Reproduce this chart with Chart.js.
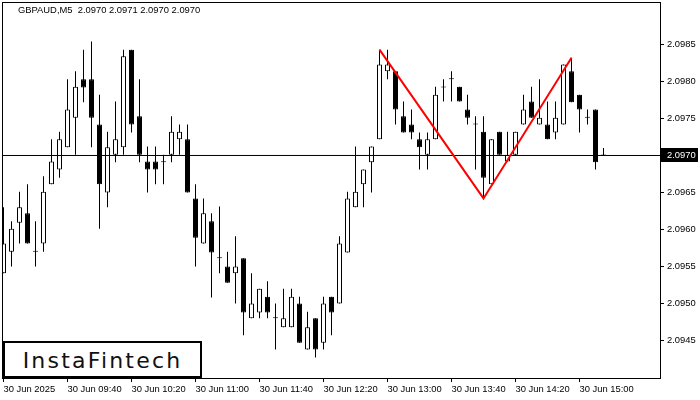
<!DOCTYPE html>
<html>
<head>
<meta charset="utf-8">
<script src="https://cdn.jsdelivr.net/npm/chart.js@4/dist/chart.umd.min.js"></script>
<style>
html,body{margin:0;padding:0;background:#fff;}
#wrap{position:relative;width:700px;height:400px;overflow:hidden;}
#title{position:absolute;left:18px;top:4px;font:9.4px "Liberation Sans",Arial,sans-serif;color:#000;white-space:pre;}
#logo{position:absolute;left:3px;top:341px;width:199px;height:37px;box-sizing:border-box;border:2px solid #000;background:#fff;
  font:500 22px "DejaVu Sans",sans-serif;color:#111;display:flex;align-items:center;justify-content:center;padding-top:1px;letter-spacing:2.2px;}
</style>
</head>
<body>
<div id="wrap">
<canvas id="c" width="700" height="400"></canvas>
<div id="title"></div>
<div id="logo">InstaFintech</div>
</div>
<script>
const symbol = 'GBPAUD,M5';
const opens = [2.09541,2.09570,2.09609,2.09622,2.09570,2.09581,2.09661,2.09681,2.09711,2.09751,
2.09803,2.09803,2.09742,2.09650,2.09701,2.09711,2.09843,2.09753,2.09692,2.09692,
2.09691,2.09701,2.09722,2.09722,2.09642,2.09581,2.09611,2.09561,2.09550,2.09541,
2.09561,2.09480,2.09488,2.09509,2.09480,2.09468,2.09468,2.09500,2.09438,2.09480,
2.09447,2.09509,2.09500,2.09569,2.09630,2.09661,2.09691,2.09722,2.09814,2.09814,
2.09753,2.09742,2.09722,2.09701,2.09722,2.09792,2.09803,2.09793,2.09762,2.09742,
2.09732,2.09661,2.09732,2.09692,2.09701,2.09742,2.09773,2.09742,2.09742,2.09731,
2.09742,2.09814,2.09782,2.09751,2.09762,2.09700];
const highs = [2.09630,2.09611,2.09651,2.09661,2.09611,2.09672,2.09722,2.09732,2.09803,2.09814,
2.09843,2.09854,2.09782,2.09732,2.09773,2.09843,2.09843,2.09803,2.09712,2.09712,
2.09701,2.09753,2.09742,2.09742,2.09661,2.09642,2.09622,2.09631,2.09570,2.09591,
2.09561,2.09541,2.09520,2.09530,2.09500,2.09520,2.09520,2.09509,2.09489,2.09480,
2.09509,2.09509,2.09591,2.09651,2.09712,2.09681,2.09712,2.09843,2.09843,2.09814,
2.09773,2.09762,2.09731,2.09731,2.09793,2.09803,2.09814,2.09793,2.09782,2.09753,
2.09753,2.09722,2.09732,2.09732,2.09732,2.09782,2.09793,2.09803,2.09773,2.09773,
2.09823,2.09832,2.09782,2.09762,2.09762,2.09710];
const lows = [2.09541,2.09550,2.09581,2.09581,2.09550,2.09570,2.09661,2.09670,2.09711,2.09701,
2.09772,2.09711,2.09601,2.09630,2.09691,2.09701,2.09731,2.09691,2.09650,2.09661,
2.09661,2.09691,2.09701,2.09650,2.09550,2.09581,2.09508,2.09541,2.09528,2.09500,
2.09457,2.09480,2.09480,2.09480,2.09438,2.09468,2.09468,2.09447,2.09438,2.09427,
2.09438,2.09457,2.09500,2.09569,2.09630,2.09630,2.09650,2.09722,2.09803,2.09742,
2.09731,2.09722,2.09681,2.09681,2.09722,2.09773,2.09773,2.09773,2.09742,2.09681,
2.09642,2.09661,2.09701,2.09692,2.09701,2.09742,2.09751,2.09742,2.09722,2.09722,
2.09742,2.09772,2.09731,2.09742,2.09681,2.09700];
const closes = [2.09581,2.09601,2.09630,2.09581,2.09570,2.09651,2.09692,2.09722,2.09762,2.09793,
2.09792,2.09751,2.09661,2.09711,2.09722,2.09834,2.09742,2.09701,2.09681,2.09681,
2.09691,2.09732,2.09732,2.09650,2.09589,2.09622,2.09569,2.09561,2.09528,2.09550,
2.09488,2.09500,2.09520,2.09488,2.09480,2.09480,2.09509,2.09447,2.09468,2.09438,
2.09500,2.09488,2.09581,2.09642,2.09651,2.09681,2.09712,2.09823,2.09823,2.09762,
2.09731,2.09731,2.09711,2.09722,2.09782,2.09792,2.09803,2.09773,2.09751,2.09742,
2.09670,2.09722,2.09701,2.09701,2.09732,2.09762,2.09751,2.09751,2.09722,2.09751,
2.09823,2.09772,2.09762,2.09751,2.09691,2.09700];
const currentPrice = 2.0970;
const yTickValues = [2.0945,2.0950,2.0955,2.0960,2.0965,2.0970,2.0975,2.0980,2.0985];
const xTickIndex = [0,8,16,24,32,40,48,56,64,72];
const xTickLabels = ['30 Jun 2025','30 Jun 09:40','30 Jun 10:20','30 Jun 11:00','30 Jun 11:40','30 Jun 12:20','30 Jun 13:00','30 Jun 13:40','30 Jun 14:20','30 Jun 15:00'];
const patternIndex = [47,60,71];
const patternPrice = [2.09843,2.09642,2.09832];

const last = opens.length - 1;
document.getElementById('title').textContent =
  symbol + '  ' + [opens[last], highs[last], lows[last], closes[last]].map(v => v.toFixed(4)).join(' ');

const FONT = '"Liberation Sans", Arial, sans-serif';
const idx = opens.map((_, i) => i);
const wickData = idx.map(i => ({x: i, y: [lows[i], highs[i]]}));
const bodyData = idx.map(i => ({x: i, y: [opens[i], closes[i]]}));
const bodyColors = idx.map(i => closes[i] < opens[i] ? '#000' : '#fff');

const xMin = -0.1875, xMax = 82.0625;
const yMin = 2.0939932, yMax = 2.0990608;

const framePlugin = {
  id: 'frame',
  afterDraw(chart) {
    const {ctx, chartArea: a, scales: {y}} = chart;
    ctx.save();
    ctx.strokeStyle = '#000';
    ctx.lineWidth = 1;
    ctx.strokeRect(a.left + 0.5, a.top - 0.5, a.right - a.left, a.bottom - a.top + 1);
    const py = Math.round(y.getPixelForValue(currentPrice));
    ctx.fillStyle = '#000';
    ctx.fillRect(a.right + 1, py - 7, 37, 14);
    ctx.fillStyle = '#fff';
    ctx.font = '9.4px ' + FONT;
    ctx.textBaseline = 'middle';
    ctx.textAlign = 'left';
    ctx.fillText(currentPrice.toFixed(4), a.right + 7, py + 0.5);
    ctx.restore();
  }
};

const noPad = s => { s.paddingTop = 0; s.paddingBottom = 0; s.paddingLeft = 0; s.paddingRight = 0; };

new Chart(document.getElementById('c'), {
  type: 'bar',
  data: {
    datasets: [
      {type: 'line', data: patternIndex.map((v, k) => ({x: v, y: patternPrice[k]})),
        borderColor: '#ff0000', borderWidth: 2, pointRadius: 0, tension: 0, order: -2},
      {type: 'line', data: [{x: xMin, y: currentPrice}, {x: xMax, y: currentPrice}],
        borderColor: '#000', borderWidth: 1, pointRadius: 0, order: -1},
      {data: bodyData, backgroundColor: bodyColors, borderColor: '#000', borderWidth: 1,
        borderSkipped: false, barThickness: 5, minBarLength: 1, grouped: false, inflateAmount: 0, order: 0},
      {data: wickData, backgroundColor: '#000', borderWidth: 0,
        barThickness: 1, grouped: false, inflateAmount: 0, order: 1}
    ]
  },
  options: {
    responsive: false,
    animation: false,
    devicePixelRatio: 1,
    layout: {padding: {left: 2, top: 3, right: 0, bottom: 0}},
    plugins: {legend: {display: false}, tooltip: {enabled: false}},
    scales: {
      x: {
        type: 'linear', min: xMin, max: xMax, offset: false,
        grid: {display: true, offset: false, drawOnChartArea: false, drawTicks: true, tickLength: 4, color: '#000'},
        border: {display: false},
        afterBuildTicks: s => { s.ticks = xTickIndex.map(v => ({value: v})); },
        afterFit: s => { s.height = 22; noPad(s); },
        ticks: {
          autoSkip: false, maxRotation: 0, minRotation: 0, align: 'start', padding: 2,
          color: '#000', font: {family: FONT, size: 9.4},
          callback: (v, i) => xTickLabels[i]
        }
      },
      y: {
        type: 'linear', position: 'right', min: yMin, max: yMax,
        grid: {display: true, drawOnChartArea: false, drawTicks: true, tickLength: 4, color: '#000'},
        border: {display: false},
        afterBuildTicks: s => { s.ticks = yTickValues.map(v => ({value: v})); },
        afterFit: s => { s.width = 40; noPad(s); },
        ticks: {
          padding: 3, color: '#000', font: {family: FONT, size: 9.4},
          callback: v => Number(v).toFixed(4)
        }
      }
    }
  },
  plugins: [framePlugin]
});
</script>
</body>
</html>
